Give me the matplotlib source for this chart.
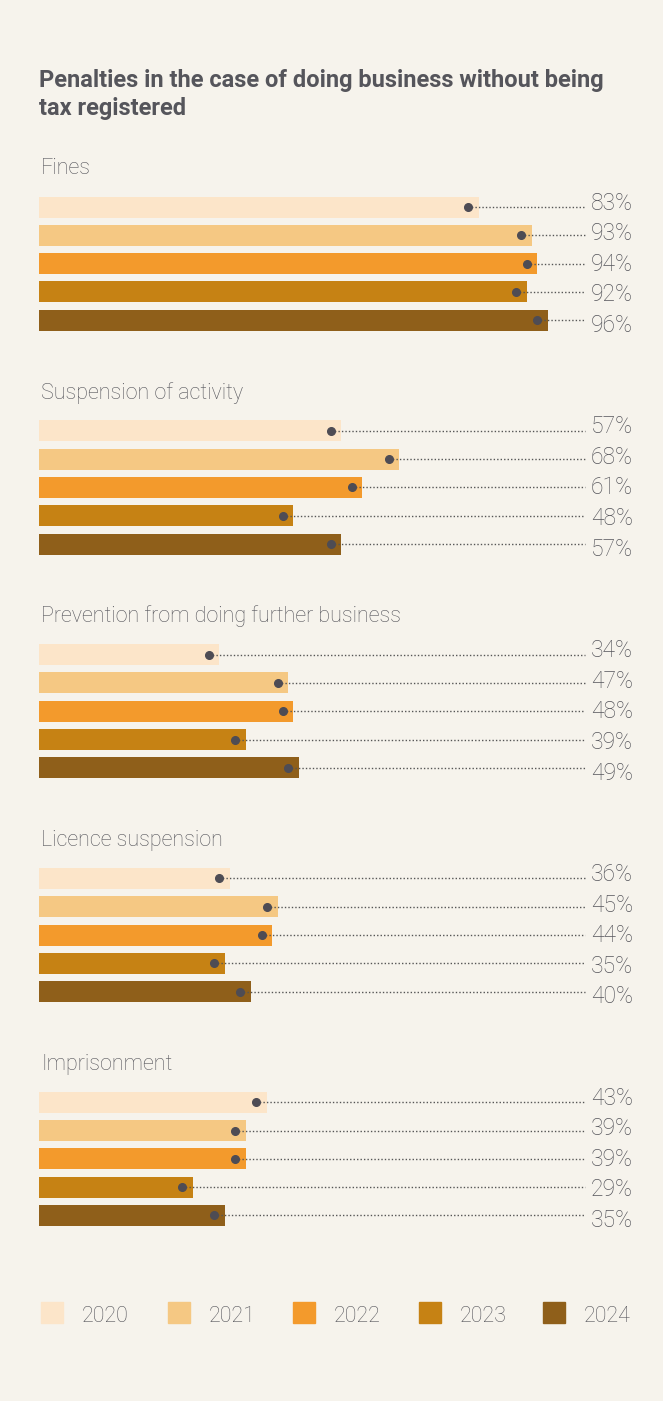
import matplotlib.pyplot as plt
from matplotlib.patches import Rectangle

# dane
groups = ["Fines", "Suspension of activity", "Prevention from doing further business",
          "Licence suspension", "Imprisonment"]
years = ["2020", "2021", "2022", "2023", "2024"]
fines = [83, 93, 94, 92, 96]
suspension = [57, 68, 61, 48, 57]
prevention = [34, 47, 48, 39, 49]
licence = [36, 45, 44, 35, 40]
imprisonment = [43, 39, 39, 29, 35]
values = [fines, suspension, prevention, licence, imprisonment]

colors = ["#FCE5C9", "#F5C883", "#F39A2C", "#C68214", "#8F5F1A"]
bg = "#F6F3EC"
txt = "#55555B"
dotc = "#4E4C54"

# uklad (piksele)
W, H = 663, 1401
x0 = 39          # lewa krawedz slupkow
px = 5.3         # pikseli na 1%
first_y = 207
group_gap = 223.8
row_gap = 28.3
bar_h = 21
line_end = 585
label_x = 633

def to_v(xp):
    return (xp - x0) / px

fig = plt.figure(figsize=(W / 100, H / 100), dpi=100)
fig.patch.set_facecolor(bg)
ax = fig.add_axes([0, 0, 1, 1])
ax.set_facecolor(bg)
ax.set_xlim(to_v(0), to_v(W))
ax.set_ylim(H, 0)
ax.axis("off")

ax.text(to_v(39), 69, "Penalties in the case of doing business without being\ntax registered",
        fontsize=17, fontweight="bold", family="Roboto", color=txt,
        va="top", ha="left", linespacing=1.25)

for g, (name, vals) in enumerate(zip(groups, values)):
    gy = first_y + g * group_gap
    ax.text(to_v(41), gy - 38, name, fontsize=15.5, fontweight="light", family="Roboto",
            color=txt, va="center", ha="left")
    for r, v in enumerate(vals):
        y = gy + r * row_gap
        ax.barh(y, v, height=bar_h, left=0, color=colors[r])
        ax.plot([v - 2, to_v(line_end)], [y, y], color="#555555", lw=1,
                linestyle=(0, (1, 1.5)), zorder=3)
        ax.plot(v - 2, y, "o", color=dotc, markersize=5.5, zorder=4)
        ax.text(to_v(label_x), gy - 4 + r * 30.6, f"{v}%", fontsize=16.5,
                fontweight="light", family="Roboto", color=txt, va="center", ha="right")

# legenda
leg_sq = [41, 168, 293, 419, 543]
for i, yr in enumerate(years):
    ax.add_patch(Rectangle((to_v(leg_sq[i]), 1302), 22 / px, 21, color=colors[i]))
    ax.text(to_v(leg_sq[i] + 41), 1316, yr, fontsize=15.5, fontweight="light",
            family="Roboto", color=txt, va="center", ha="left")

fig.savefig("out.png", dpi=100, facecolor=bg)
